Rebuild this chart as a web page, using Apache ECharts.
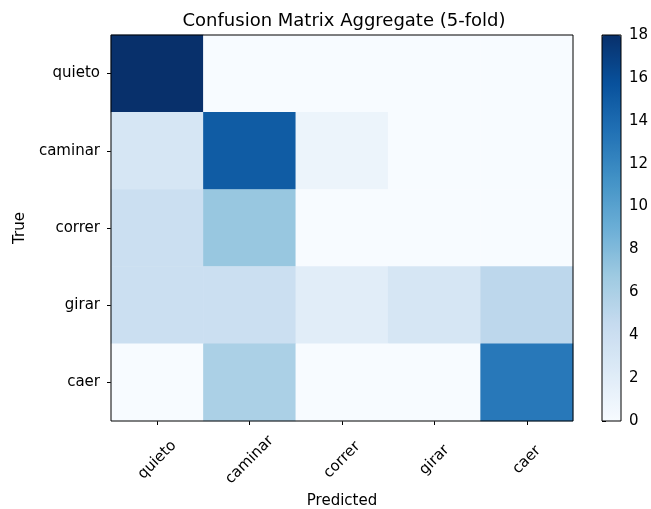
<!DOCTYPE html>
<html>
<head>
<meta charset="utf-8">
<script src="https://cdn.jsdelivr.net/npm/echarts@6/dist/echarts.min.js"></script>
<style>
  html, body { margin: 0; padding: 0; background: #fff; }
  #chart { width: 651px; height: 509px; }
</style>
</head>
<body>
<div id="chart"></div>
<script>
// Class labels (predicted on x, true on y)
const classes = ['quieto', 'caminar', 'correr', 'girar', 'caer'];

// Aggregated counts over 5 folds, one row per true class
const rowQuieto  = [18, 0, 0, 0, 0];
const rowCaminar = [3, 15, 1, 0, 0];
const rowCorrer  = [4, 7, 0, 0, 0];
const rowGirar   = [4, 4, 2, 3, 5];
const rowCaer    = [0, 6, 0, 0, 13];

// Colour scale range and colorbar ticks
const scaleMin = 0;
const scaleMax = 18;
const colorbarStep = 2;

// Matplotlib "Blues" colormap stops
const blues = ['#f7fbff', '#deebf7', '#c6dbef', '#9ecae1', '#6baed6',
               '#4292c6', '#2171b5', '#08519c', '#08306b'];

const rows = [rowQuieto, rowCaminar, rowCorrer, rowGirar, rowCaer];
const cells = [];
rows.forEach((row, yi) => row.forEach((v, xi) => cells.push([xi, yi, v])));

const font = 'DejaVu Sans';
const labelSize = 15;
const chart = echarts.init(document.getElementById('chart'), null, { renderer: 'canvas' });

chart.setOption({
  animation: false,
  backgroundColor: '#fff',
  textStyle: { fontFamily: font, color: '#000' },
  title: {
    text: 'Confusion Matrix Aggregate (5-fold)',
    left: 339, top: 7, textAlign: 'center',
    textStyle: { fontFamily: font, fontSize: 18, fontWeight: 'normal', color: '#000' }
  },
  grid: [
    { left: 111, top: 35, width: 462, height: 386, show: true, z: 5,
      outerBoundsMode: 'none', containLabel: false,
      backgroundColor: 'transparent', borderColor: '#000', borderWidth: 1 },
    { left: 602, top: 35, width: 19, height: 386, show: true, z: 5,
      outerBoundsMode: 'none', containLabel: false,
      backgroundColor: 'transparent', borderColor: '#000', borderWidth: 1 }
  ],
  xAxis: [
    { type: 'category', gridIndex: 0, data: classes,
      name: 'Predicted', nameLocation: 'middle', nameGap: 72,
      nameTextStyle: { fontFamily: font, fontSize: labelSize, color: '#000' },
      axisLine: { show: false },
      axisTick: { show: true, alignWithLabel: true, length: 4, lineStyle: { color: '#000' } },
      axisLabel: { rotate: 45, align: 'center', verticalAlign: 'middle', margin: 39,
                   fontFamily: font, fontSize: labelSize, color: '#000' },
      splitLine: { show: false } },
    { type: 'value', gridIndex: 1, show: false, min: 0, max: 1 }
  ],
  yAxis: [
    { type: 'category', gridIndex: 0, data: classes, inverse: true,
      name: 'True', nameLocation: 'middle', nameGap: 78, nameRotate: 90,
      nameTextStyle: { fontFamily: font, fontSize: labelSize, color: '#000' },
      axisLine: { show: false },
      axisTick: { show: true, alignWithLabel: true, length: 4, lineStyle: { color: '#000' } },
      axisLabel: { margin: 11, fontFamily: font, fontSize: labelSize, color: '#000' },
      splitLine: { show: false } },
    { type: 'value', gridIndex: 1, position: 'right',
      min: scaleMin, max: scaleMax, interval: colorbarStep,
      axisLine: { show: false },
      axisTick: { show: true, length: 4, lineStyle: { color: '#000' } },
      axisLabel: { margin: 8, fontFamily: font, fontSize: labelSize, color: '#000' },
      splitLine: { show: false } }
  ],
  visualMap: {
    type: 'continuous',
    min: scaleMin, max: scaleMax,
    seriesIndex: 0,
    calculable: false,
    hoverLink: false,
    realtime: false,
    showLabel: false,
    text: null,
    orient: 'vertical',
    left: 602, top: 35,
    padding: 0,
    itemWidth: 19, itemHeight: 386,
    inRange: { color: blues }
  },
  series: [{
    type: 'heatmap',
    xAxisIndex: 0, yAxisIndex: 0,
    data: cells,
    label: { show: false },
    emphasis: { disabled: true },
    itemStyle: { borderWidth: 0 }
  }]
});
</script>
</body>
</html>
